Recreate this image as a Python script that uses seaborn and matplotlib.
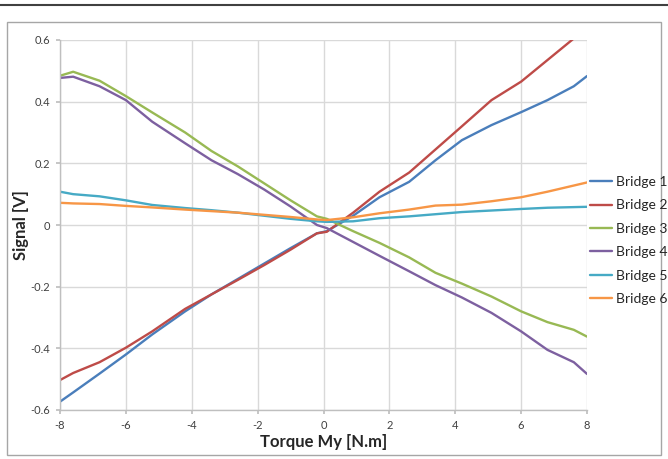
import matplotlib
matplotlib.use("Agg")
import matplotlib.pyplot as plt
import seaborn as sns
import pandas as pd
from matplotlib.patches import Rectangle
from matplotlib.lines import Line2D

torque = [-8, -7.6, -6.8, -6, -5.2, -4.2, -3.4, -2.6, -1.8, -1.0, -0.2, 0.1,
          0.9, 1.7, 2.6, 3.4, 4.2, 5.1, 6.0, 6.8, 7.6, 8]

bridge1 = [-0.573, -0.543, -0.482, -0.42, -0.355, -0.28, -0.225, -0.175, -0.125, -0.075, -0.027, -0.02,
           0.03, 0.09, 0.14, 0.21, 0.275, 0.324, 0.366, 0.405, 0.45, 0.483]
bridge2 = [-0.503, -0.48, -0.445, -0.398, -0.345, -0.272, -0.225, -0.178, -0.13, -0.08, -0.027, -0.022,
           0.04, 0.108, 0.17, 0.245, 0.32, 0.405, 0.465, 0.535, 0.605, 0.64]
bridge3 = [0.484, 0.497, 0.468, 0.418, 0.365, 0.30, 0.24, 0.19, 0.135, 0.08, 0.028, 0.02,
           -0.02, -0.058, -0.105, -0.155, -0.19, -0.232, -0.28, -0.315, -0.34, -0.362]
bridge4 = [0.477, 0.481, 0.45, 0.405, 0.335, 0.265, 0.21, 0.165, 0.115, 0.06, 0.0, -0.01,
           -0.055, -0.1, -0.15, -0.195, -0.235, -0.285, -0.345, -0.405, -0.445, -0.483]
bridge5 = [0.108, 0.10, 0.093, 0.08, 0.065, 0.055, 0.048, 0.04, 0.03, 0.02, 0.012, 0.01,
           0.012, 0.022, 0.028, 0.035, 0.042, 0.047, 0.052, 0.056, 0.058, 0.059]
bridge6 = [0.072, 0.07, 0.068, 0.062, 0.057, 0.05, 0.045, 0.04, 0.033, 0.026, 0.018, 0.016,
           0.025, 0.038, 0.05, 0.063, 0.066, 0.077, 0.09, 0.108, 0.128, 0.138]

series_names = ["Bridge 1", "Bridge 2", "Bridge 3", "Bridge 4", "Bridge 5", "Bridge 6"]
series_values = [bridge1, bridge2, bridge3, bridge4, bridge5, bridge6]
colors = ["#4A7EBB", "#BE4B48", "#98B954", "#7D60A0", "#46AAC5", "#F79646"]

x_ticks = [-8, -6, -4, -2, 0, 2, 4, 6, 8]
y_ticks = [-0.6, -0.4, -0.2, 0, 0.2, 0.4, 0.6]

rows = []
for name, vals in zip(series_names, series_values):
    for t, v in zip(torque, vals):
        rows.append({"Torque": t, "Signal": v, "Bridge": name})
df = pd.DataFrame(rows)

sns.set_theme(style="white")
plt.rcParams["font.family"] = ["Lato", "DejaVu Sans"]

fig = plt.figure(figsize=(6.68, 4.59), dpi=100)
ax = fig.add_axes([60 / 668, 1 - 410 / 459, 527 / 668, 370 / 459])

sns.lineplot(data=df, x="Torque", y="Signal", hue="Bridge", hue_order=series_names,
             palette=colors, linewidth=1.7, ax=ax, legend=False, sort=False,
             clip_on=True)

ax.set_xlim(-8, 8)
ax.set_ylim(-0.6, 0.6)
ax.set_xticks(x_ticks)
ax.set_yticks(y_ticks)
ax.set_xticklabels([str(t) for t in x_ticks])
ax.set_yticklabels(["-0.6", "-0.4", "-0.2", "0", "0.2", "0.4", "0.6"])
ax.grid(True, color="#D9D9D9", linewidth=1.0)
ax.set_axisbelow(True)
for s in ["top", "right"]:
    ax.spines[s].set_visible(False)
for s in ["left", "bottom"]:
    ax.spines[s].set_color("#BFBFBF")
    ax.spines[s].set_linewidth(1.0)
ax.tick_params(axis="both", labelsize=8, colors="#404040", length=3,
               color="#BFBFBF", direction="out", pad=4, bottom=True, left=True)
ax.set_xlabel("Torque My [N.m]", fontsize=12, fontweight="bold", color="#262626", labelpad=2)
ax.set_ylabel("Signal [V]", fontsize=12, fontweight="bold", color="#262626", labelpad=1)

handles = [Line2D([0], [0], color=c, linewidth=1.7) for c in colors]
fig.legend(handles, series_names, loc="upper left", bbox_to_anchor=(590 / 668, 1 - 176 / 459),
           frameon=False, fontsize=10, handlelength=1.6, handletextpad=0.3,
           labelspacing=0.82, borderaxespad=0, borderpad=0)

# chart frame and top rule
fig.add_artist(Rectangle((7 / 668, 1 - 455 / 459), 654 / 668, 433 / 459,
                         transform=fig.transFigure, fill=False, edgecolor="#A6A6A6",
                         linewidth=1.0))
fig.add_artist(Line2D([0, 1], [1 - 5 / 459, 1 - 5 / 459], transform=fig.transFigure,
                      color="#404040", linewidth=1.5))

fig.savefig("out.png", dpi=100)
